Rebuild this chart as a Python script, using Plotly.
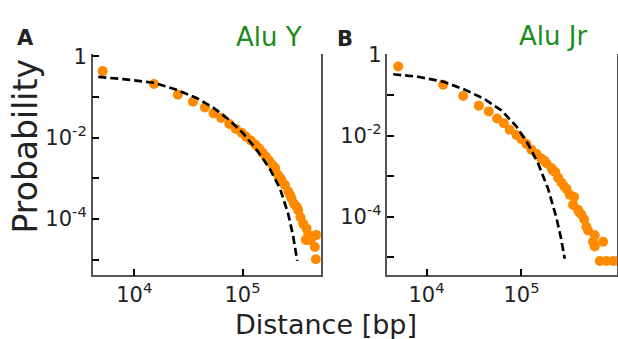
import plotly.graph_objects as go

# ---- data (log10 units) ----
a_pts_logx = [3.708, 4.182, 4.403, 4.542, 4.652, 4.732, 4.803, 4.877, 4.938, 4.991,
              5.031, 5.077, 5.120, 5.154, 5.185, 5.215, 5.246, 5.277, 5.302, 5.329,
              5.360, 5.391, 5.422, 5.452, 5.474, 5.514, 5.535, 5.560, 5.591, 5.606,
              5.628, 5.658, 5.683, 5.668, 5.677, 5.585, 5.300, 5.350, 5.440, 5.500]
a_pts_logy = [-0.365, -0.683, -0.944, -1.119, -1.262, -1.405, -1.516, -1.667, -1.786, -1.881,
              -1.976, -2.071, -2.175, -2.270, -2.373, -2.468, -2.571, -2.675, -2.810, -2.929,
              -3.048, -3.167, -3.325, -3.500, -3.627, -3.786, -3.960, -4.119, -4.238, -4.397,
              -4.532, -4.421, -4.397, -4.690, -4.992, -4.516, -2.740, -3.000, -3.420, -3.700]
a_fit_logx = [3.668, 3.898, 4.182, 4.391, 4.575, 4.729, 4.883, 5.006, 5.129, 5.252,
              5.345, 5.422, 5.468, 5.505]
a_fit_logy = [-0.508, -0.563, -0.651, -0.825, -1.024, -1.262, -1.579, -1.897, -2.294, -2.770,
              -3.246, -3.881, -4.437, -5.032]

b_pts_logx = [3.702, 4.175, 4.386, 4.551, 4.656, 4.744, 4.814, 4.877, 4.947, 5.000,
              5.053, 5.105, 5.158, 5.211, 5.263, 5.316, 5.358, 5.386, 5.421, 5.474,
              5.509, 5.554, 5.544, 5.596, 5.632, 5.660, 5.684, 5.702, 5.772, 5.754,
              5.860, 5.772, 5.825, 5.895, 5.965, 6.010, 5.240, 5.330, 5.450, 5.610]
b_pts_logy = [-0.296, -0.747, -1.024, -1.261, -1.403, -1.577, -1.696, -1.854, -1.988, -2.091,
              -2.209, -2.352, -2.447, -2.565, -2.684, -2.802, -2.905, -3.040, -3.158, -3.316,
              -3.458, -3.514, -3.711, -3.830, -3.949, -4.067, -4.249, -4.344, -4.462, -4.621,
              -4.621, -4.739, -5.095, -5.095, -5.095, -5.095, -2.620, -2.860, -3.250, -3.900]
b_fit_logx = [3.649, 3.912, 4.175, 4.404, 4.614, 4.789, 4.947, 5.070, 5.175, 5.281,
              5.368, 5.414, 5.456]
b_fit_logy = [-0.486, -0.549, -0.668, -0.866, -1.103, -1.379, -1.775, -2.209, -2.684, -3.316,
              -4.028, -4.502, -5.040]

y_tickvals = [1, 1e-1, 1e-2, 1e-3, 1e-4, 1e-5]
y_ticktext = ["1", "", "10<sup>-2</sup>", "", "10<sup>-4</sup>", ""]
x_tickvals = [1e4, 1e5]
x_ticktext = ["10<sup>4</sup>", "10<sup>5</sup>"]

panel_letters = ["A", "B"]
panel_titles = ["Alu Y", "Alu Jr"]
x_label = "Distance [bp]"
y_label = "Probability"

ORANGE = "#ff8a00"
GREEN = "#1a8c1a"
FONT = "DejaVu Sans"
W, H = 618, 339


def pw(v):
    return [10 ** t for t in v]


fig = go.Figure()
for (px, py, fx, fy, xa, ya) in [
    (a_pts_logx, a_pts_logy, a_fit_logx, a_fit_logy, "x", "y"),
    (b_pts_logx, b_pts_logy, b_fit_logx, b_fit_logy, "x2", "y2"),
]:
    fig.add_trace(go.Scatter(x=pw(px), y=pw(py), mode="markers", xaxis=xa, yaxis=ya,
                             marker=dict(color=ORANGE, size=10, line=dict(width=0)),
                             showlegend=False, cliponaxis=True))
    fig.add_trace(go.Scatter(x=pw(fx), y=pw(fy), mode="lines", xaxis=xa, yaxis=ya,
                             line=dict(color="black", width=2.7, dash="8px,4px"),
                             showlegend=False))

common_x = dict(type="log", showline=True, linecolor="#555555", linewidth=1.5, mirror=False,
                showgrid=False, zeroline=False, ticks="inside", ticklen=7, tickwidth=2,
                tickcolor="black", tickvals=x_tickvals, ticktext=x_ticktext,
                tickfont=dict(family=FONT, size=21, color="#222222"))
common_y = dict(type="log", showline=True, linecolor="#555555", linewidth=1.5, mirror=True,
                showgrid=False, zeroline=False, ticks="inside", ticklen=7, tickwidth=2,
                tickcolor="black", tickvals=y_tickvals, ticktext=y_ticktext,
                tickfont=dict(family=FONT, size=21, color="#222222"))


def ann(text, x, y, size, color="#222222", angle=0):
    return dict(text=text, x=x / W, y=1 - y / H, xref="paper", yref="paper",
                xanchor="center", yanchor="middle", textangle=angle, showarrow=False,
                font=dict(family=FONT, size=size, color=color))


fig.update_layout(
    width=W, height=H, margin=dict(l=0, r=0, t=0, b=0),
    paper_bgcolor="white", plot_bgcolor="white",
    xaxis=dict(common_x, domain=[0.150, 0.519], range=[3.616, 5.722], anchor="y"),
    yaxis=dict(common_y, domain=[0.194, 0.868], range=[-5.388, 0.048], anchor="x"),
    xaxis2=dict(common_x, domain=[0.627, 0.998], range=[3.589, 6.004], anchor="y2"),
    yaxis2=dict(common_y, domain=[0.194, 0.868], range=[-5.451, 0.006], anchor="x2"),
    annotations=[
        ann(f"<b>{panel_letters[0]}</b>", 25, 28, 21),
        ann(f"<b>{panel_letters[1]}</b>", 345, 29, 21),
        ann(panel_titles[0], 269, 27, 26, GREEN),
        ann(panel_titles[1], 553, 26, 26, GREEN),
        ann(x_label, 326, 324, 27),
        ann(y_label, 25, 140, 33, angle=-90),
    ],
)

fig.write_html("out.html", config={"displayModeBar": False},
               post_script="document.body.style.margin='0';document.body.style.overflow='hidden';")
